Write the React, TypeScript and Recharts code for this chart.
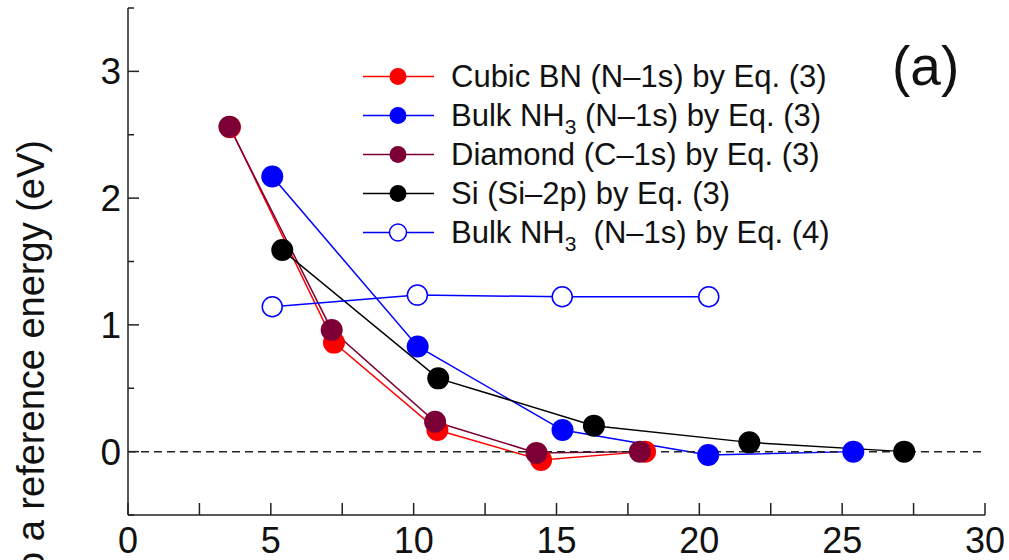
import React from 'react'
import { LineChart, Line, XAxis, YAxis, ReferenceLine, Customized } from 'recharts'

// binding energy shifts vs cluster size
const cubicBNx = [3.57, 7.21, 10.83, 14.46, 18.1]
const cubicBNy = [2.56, 0.86, 0.17, -0.066, 0.0]
const nh3Eq3x = [5.05, 10.14, 15.21, 20.31, 25.39]
const nh3Eq3y = [2.17, 0.83, 0.17, -0.027, 0.0]
const diamondX = [3.55, 7.13, 10.75, 14.3, 17.92]
const diamondY = [2.563, 0.96, 0.236, -0.01, 0.0]
const siX = [5.4, 10.86, 16.31, 21.75, 27.17]
const siY = [1.59, 0.578, 0.205, 0.073, 0.0]
const nh3Eq4x = [5.05, 10.13, 15.2, 20.33]
const nh3Eq4y = [1.143, 1.235, 1.222, 1.222]

const xTicks = [0, 2.5, 5, 7.5, 10, 12.5, 15, 17.5, 20, 22.5, 25, 27.5, 30]
const yTicks = [-0.5, 0, 0.5, 1, 1.5, 2, 2.5, 3, 3.5]

const RED = '#ff0000'
const BLUE = '#0000ff'
const MAROON = '#7c0036'
const BLACK = '#000000'
const FONT = '"Liberation Sans", Arial, Helvetica, sans-serif'

const zip = (xs: number[], ys: number[]) => xs.map((x, i) => ({ x, y: ys[i] }))

const series = [
  { key: 'bn', data: zip(cubicBNx, cubicBNy), color: RED, open: false, label: ['Cubic BN (N–1s) by Eq. (3)'] },
  { key: 'nh3', data: zip(nh3Eq3x, nh3Eq3y), color: BLUE, open: false, label: ['Bulk NH', '3', ' (N–1s) by Eq. (3)'] },
  { key: 'dia', data: zip(diamondX, diamondY), color: MAROON, open: false, label: ['Diamond (C–1s) by Eq. (3)'] },
  { key: 'si', data: zip(siX, siY), color: BLACK, open: false, label: ['Si (Si–2p) by Eq. (3)'] },
  { key: 'nh3b', data: zip(nh3Eq4x, nh3Eq4y), color: BLUE, open: true, label: ['Bulk NH', '3', '  (N–1s) by Eq. (4)'] },
]

const isMajor = (v: number, step: number) => Math.abs(v / step - Math.round(v / step)) < 1e-6

function BottomTick({ x, y, payload }: any) {
  const v = payload.value
  return (
    <g>
      <line x1={x} x2={x} y1={y} y2={y - 12} stroke="#222" strokeWidth={1.5} />
      {isMajor(v, 5) && (
        <text x={x} y={y + 38} textAnchor="middle" fontSize={36} fontFamily={FONT} fill="#111">
          {v}
        </text>
      )}
    </g>
  )
}

function TopTick({ x, y }: any) {
  return <line x1={x} x2={x} y1={y} y2={y + 12} stroke="#222" strokeWidth={1.5} />
}

function LeftTick({ x, y, payload }: any) {
  const v = payload.value
  const major = isMajor(v, 1)
  return (
    <g>
      <line x1={x} x2={x + (major ? 11 : 6)} y1={y} y2={y} stroke="#222" strokeWidth={1.5} />
      {major && (
        <text x={x - 7} y={y + 13} textAnchor="end" fontSize={37} fontFamily={FONT} fill="#111">
          {v}
        </text>
      )}
    </g>
  )
}

function RightTick({ x, y, payload }: any) {
  const major = isMajor(payload.value, 1)
  return <line x1={x} x2={x - (major ? 11 : 6)} y1={y} y2={y} stroke="#222" strokeWidth={1.5} />
}

function LegendAndLabels() {
  const top = 76.5
  const gap = 39
  return (
    <g fontFamily={FONT} fill="#111">
      {series.map((s, i) => {
        const cy = top + i * gap
        return (
          <g key={s.key}>
            <line x1={363} x2={434} y1={cy} y2={cy} stroke={s.color} strokeWidth={1.5} />
            <circle
              cx={398}
              cy={cy}
              r={8.5}
              fill={s.open ? '#fff' : s.color}
              stroke={s.open ? s.color : 'none'}
              strokeWidth={1.5}
            />
            <text x={451} y={cy + 10.7} fontSize={31} xmlSpace="preserve">
              {s.label.length === 1 ? (
                s.label[0]
              ) : (
                <>
                  <tspan>{s.label[0]}</tspan>
                  <tspan fontSize={21} dy={8}>{s.label[1]}</tspan>
                  <tspan dy={-8}>{s.label[2]}</tspan>
                </>
              )}
            </text>
          </g>
        )
      })}
      <text x={892} y={85} fontSize={55}>
        (a)
      </text>
      <text
        x={44}
        y={140}
        fontSize={38}
        textAnchor="end"
        transform="rotate(-90, 44, 140)"
      >
        Energy relative to a reference energy (eV)
      </text>
    </g>
  )
}

export default function App() {
  return (
    <div style={{ position: 'absolute', left: 0, top: 0, background: '#fff' }}>
      <LineChart width={1009} height={560} margin={{ top: 8, right: 24, left: 68, bottom: 0 }}>
        <XAxis
          xAxisId="b"
          dataKey="x"
          type="number"
          domain={[0, 30]}
          ticks={xTicks}
          height={45}
          tickSize={0}
          tickMargin={0}
          tickLine={false}
          axisLine={{ stroke: '#222', strokeWidth: 1.5 }}
          tick={<BottomTick />}
          interval={0}
          allowDataOverflow
        />
        <XAxis
          xAxisId="t"
          orientation="top"
          dataKey="x"
          type="number"
          domain={[0, 30]}
          ticks={xTicks}
          height={0}
          tickSize={0}
          tickMargin={0}
          tickLine={false}
          axisLine={{ stroke: '#222', strokeWidth: 1.5 }}
          tick={<TopTick />}
          interval={0}
          allowDataOverflow
        />
        <YAxis
          yAxisId="l"
          type="number"
          domain={[-0.5, 3.5]}
          ticks={yTicks}
          width={60}
          tickSize={0}
          tickMargin={0}
          tickLine={false}
          axisLine={{ stroke: '#222', strokeWidth: 1.5 }}
          tick={<LeftTick />}
          interval={0}
          allowDataOverflow
        />
        <YAxis
          yAxisId="r"
          orientation="right"
          type="number"
          domain={[-0.5, 3.5]}
          ticks={yTicks}
          width={0}
          tickSize={0}
          tickMargin={0}
          tickLine={false}
          axisLine={{ stroke: '#222', strokeWidth: 1.5 }}
          tick={<RightTick />}
          interval={0}
          allowDataOverflow
        />
        {series.map((s) => (
          <Line
            key={s.key}
            xAxisId="b"
            yAxisId="l"
            data={s.data}
            dataKey="y"
            type="linear"
            stroke={s.color}
            strokeWidth={1.5}
            dot={
              s.open
                ? { r: 10, fill: '#fff', stroke: s.color, strokeWidth: 1.5 }
                : { r: 11, fill: s.color, stroke: 'none', strokeWidth: 0 }
            }
            activeDot={false}
            isAnimationActive={false}
          />
        ))}
        <ReferenceLine
          xAxisId="b"
          yAxisId="l"
          y={0}
          stroke="#222"
          strokeWidth={1.5}
          strokeDasharray="8 5"
        />
        <Customized component={<LegendAndLabels />} />
      </LineChart>
    </div>
  )
}
